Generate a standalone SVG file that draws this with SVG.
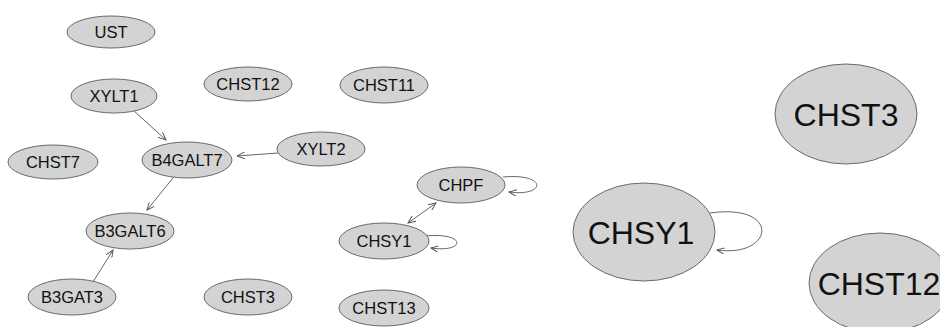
<svg xmlns="http://www.w3.org/2000/svg" width="940" height="327" viewBox="0 0 940 327">
<defs>
<style>
.n ellipse{fill:#d3d3d3;stroke:#6a6a6a;stroke-width:1}
.n text{font-family:"Liberation Sans",Arial,sans-serif;font-size:16.5px;fill:#111;text-anchor:middle}
.big text{font-size:32px}
.e path{fill:none;stroke:#555;stroke-width:0.9}
</style>
<marker id="ah" viewBox="0 0 10 8" refX="9" refY="4" markerWidth="9" markerHeight="7" markerUnits="userSpaceOnUse" orient="auto-start-reverse">
<path d="M0,0 L9,4 L0,8" fill="none" stroke="#555" stroke-width="1.1"/>
</marker>
</defs>
<rect width="940" height="327" fill="#fff"/>
<g class="e" id="edges">
<path d="M133,110 L166,140" marker-end="url(#ah)"/>
<path d="M278,153 L237,156" marker-end="url(#ah)"/>
<path d="M173,178 L147,210" marker-end="url(#ah)"/>
<path d="M88,290 L113,250" marker-end="url(#ah)"/>
<path d="M408,223 L436,203" marker-start="url(#ah)" marker-end="url(#ah)"/>
<path d="M503,177 C548,173 546,197 509,192" marker-end="url(#ah)"/>
<path d="M425,236 C467,232 466,253 431,248" marker-end="url(#ah)"/>
<path d="M710,213 C782,203 774,258 717,250" marker-end="url(#ah)"/>
</g>
<g class="n" id="UST"><ellipse cx="111" cy="32" rx="44" ry="16"/><text x="111" y="38">UST</text></g>
<g class="n" id="XYLT1"><ellipse cx="114" cy="96" rx="43" ry="17"/><text x="114" y="102">XYLT1</text></g>
<g class="n" id="CHST12_s"><ellipse cx="248" cy="84" rx="44" ry="17"/><text x="248" y="90">CHST12</text></g>
<g class="n" id="CHST11"><ellipse cx="384" cy="85" rx="44" ry="18"/><text x="384" y="91">CHST11</text></g>
<g class="n" id="CHST7"><ellipse cx="53" cy="162" rx="45" ry="17"/><text x="53" y="168">CHST7</text></g>
<g class="n" id="B4GALT7"><ellipse cx="187" cy="160" rx="45" ry="18"/><text x="187" y="166">B4GALT7</text></g>
<g class="n" id="XYLT2"><ellipse cx="321" cy="149" rx="44" ry="17"/><text x="321" y="155">XYLT2</text></g>
<g class="n" id="CHPF"><ellipse cx="461" cy="185" rx="44" ry="18"/><text x="461" y="191">CHPF</text></g>
<g class="n" id="CHSY1_s"><ellipse cx="384" cy="241" rx="45" ry="18"/><text x="384" y="247">CHSY1</text></g>
<g class="n" id="B3GALT6"><ellipse cx="130" cy="231" rx="44" ry="18"/><text x="130" y="237">B3GALT6</text></g>
<g class="n" id="B3GAT3"><ellipse cx="72" cy="297" rx="44" ry="18"/><text x="72" y="303">B3GAT3</text></g>
<g class="n" id="CHST3_s"><ellipse cx="248" cy="297" rx="44" ry="18"/><text x="248" y="303">CHST3</text></g>
<g class="n" id="CHST13"><ellipse cx="384" cy="308" rx="45" ry="18"/><text x="384" y="314">CHST13</text></g>
<g class="n big" id="CHST3_b"><ellipse cx="846" cy="114" rx="71" ry="50"/><text x="846" y="126">CHST3</text></g>
<g class="n big" id="CHSY1_b"><ellipse cx="644" cy="232" rx="71" ry="49"/><text x="641" y="244">CHSY1</text></g>
<g class="n big" id="CHST12_b"><ellipse cx="880" cy="283" rx="71" ry="50"/><text x="879" y="295">CHST12</text></g>
</svg>
